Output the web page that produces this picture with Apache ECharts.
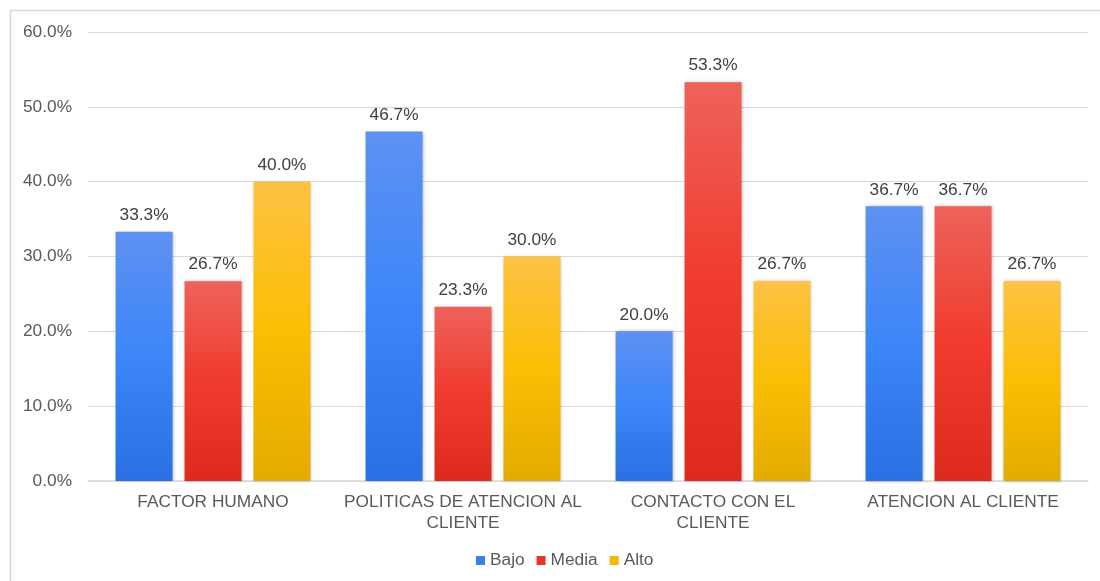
<!DOCTYPE html>
<html>
<head>
<meta charset="utf-8">
<script src="https://cdn.jsdelivr.net/npm/echarts@6/dist/echarts.min.js"></script>
<style>
  html, body { margin: 0; padding: 0; background: #fff; }
  #chart { width: 1100px; height: 581px; }
</style>
</head>
<body>
<div id="chart"></div>
<script>
// Category labels along the x axis
const categories = [
  'FACTOR HUMANO',
  'POLITICAS DE ATENCION AL\nCLIENTE',
  'CONTACTO CON EL\nCLIENTE',
  'ATENCION AL CLIENTE'
];

// Percentages per level
const bajo  = [33.3, 46.7, 20.0, 36.7];
const media = [26.7, 23.3, 53.3, 36.7];
const alto  = [40.0, 30.0, 26.7, 26.7];

const seriesNames = ['Bajo', 'Media', 'Alto'];

const FONT = '"Liberation Sans", Arial, sans-serif';
const FS = 17.3;

function grad(top, mid, bottom) {
  return new echarts.graphic.LinearGradient(0, 0, 0, 1, [
    { offset: 0, color: top },
    { offset: 0.5, color: mid },
    { offset: 1, color: bottom }
  ]);
}

const fills = [
  grad('#5e91f2', '#3c86f8', '#2a70e2'),
  grad('#ee625a', '#f03b2e', '#de2a1e'),
  grad('#fdc244', '#fbbe03', '#e4ab00')
];
const legendColors = ['#3a7fee', '#e8352a', '#f5b800'];

function makeSeries(name, data, i) {
  return {
    name: name,
    type: 'bar',
    data: data,
    barWidth: 57,
    barGap: '21%',
    itemStyle: {
      color: fills[i],
      shadowColor: 'rgba(0,0,0,0.28)',
      shadowBlur: 3,
      shadowOffsetX: 1,
      shadowOffsetY: 0
    },
    label: {
      show: true,
      position: 'top',
      distance: 8,
      color: '#404040',
      fontFamily: FONT,
      fontSize: FS,
      formatter: p => p.value.toFixed(1) + '%'
    }
  };
}

const chart = echarts.init(document.getElementById('chart'));
chart.setOption({
  animation: false,
  color: legendColors,
  graphic: [{
    type: 'rect',
    shape: { x: 10.5, y: 10.5, width: 1100, height: 620 },
    style: { fill: 'none', stroke: '#d9d9d9', lineWidth: 1.5 },
    silent: true
  }],
  grid: { left: 88, right: 12, top: 32, bottom: 100, containLabel: false },
  legend: {
    data: seriesNames.map((n, i) => ({ name: n, itemStyle: { color: legendColors[i] } })),
    top: 547,
    left: 471,
    itemWidth: 9,
    itemHeight: 9,
    itemGap: 12,
    icon: 'rect',
    textStyle: { color: '#595959', fontFamily: FONT, fontSize: FS }
  },
  xAxis: {
    type: 'category',
    data: categories,
    axisLine: { lineStyle: { color: '#d9d9d9', width: 1.5 } },
    axisTick: { show: false },
    axisLabel: {
      color: '#595959',
      fontFamily: FONT,
      fontSize: FS,
      lineHeight: 21,
      margin: 11,
      interval: 0
    }
  },
  yAxis: {
    type: 'value',
    min: 0,
    max: 60,
    interval: 10,
    axisLine: { show: false },
    axisTick: { show: false },
    splitLine: { lineStyle: { color: '#d9d9d9', width: 1 } },
    axisLabel: {
      color: '#595959',
      fontFamily: FONT,
      fontSize: FS,
      margin: 16,
      formatter: v => v.toFixed(1) + '%'
    }
  },
  series: [
    makeSeries(seriesNames[0], bajo, 0),
    makeSeries(seriesNames[1], media, 1),
    makeSeries(seriesNames[2], alto, 2)
  ]
});
</script>
</body>
</html>
